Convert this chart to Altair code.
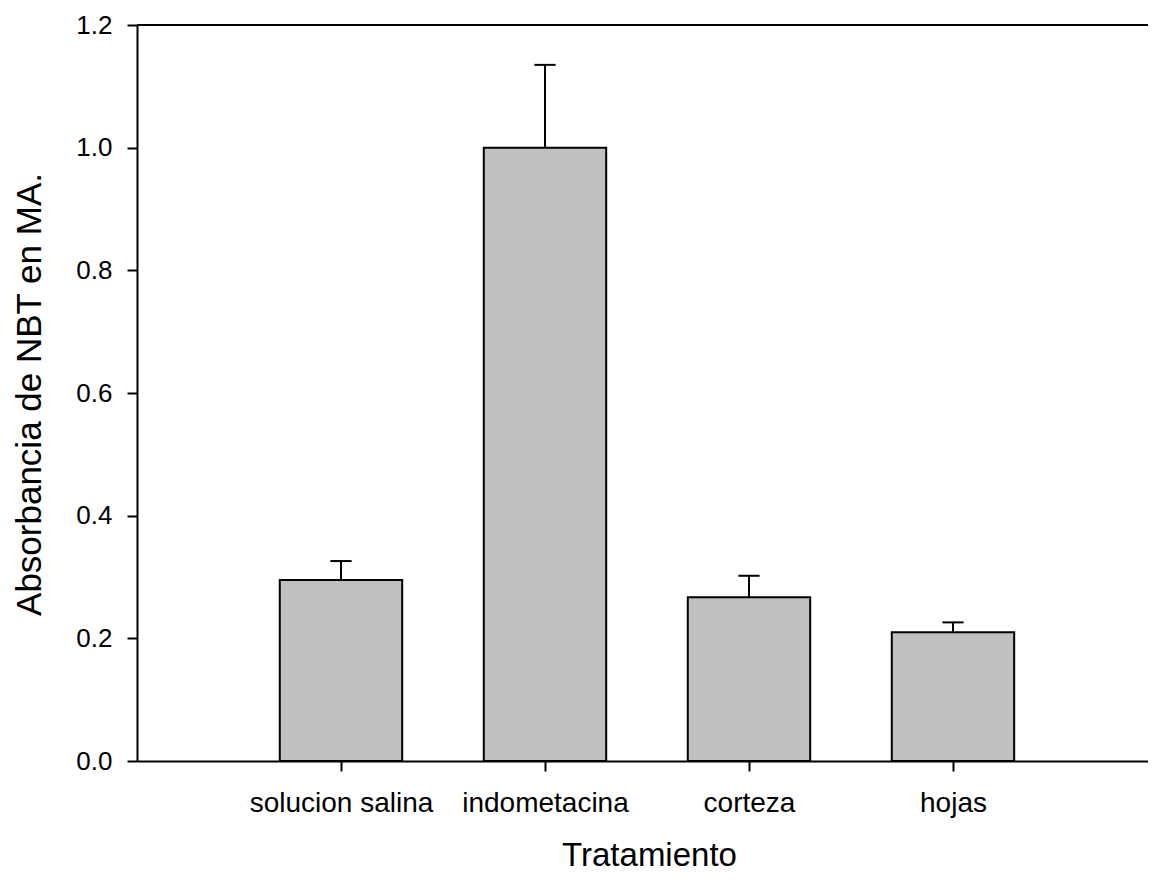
import altair as alt
import pandas as pd

categories = ["solucion salina", "indometacina", "corteza", "hojas"]
positions = [1, 2, 3, 4]
means = [0.295, 1.0, 0.267, 0.210]
errors = [0.031, 0.135, 0.035, 0.016]
y_ticks = [0.0, 0.2, 0.4, 0.6, 0.8, 1.0, 1.2]

df = pd.DataFrame({"cat": categories, "pos": positions, "mean": means, "err": errors})

label_expr = " : ".join(
    [f"datum.value == {p} ? '{c}'" for p, c in zip(positions, categories)]
) + " : ''"

FONT = "Liberation Sans"
X_MAX = 4.956

x_scale = alt.Scale(domain=[0, X_MAX], nice=False, zero=False)
y_scale = alt.Scale(domain=[0, 1.2], nice=False)

x_axis = alt.Axis(
    values=positions, labelExpr=label_expr, title="Tratamiento",
    grid=False, domainColor="black", domainWidth=2, tickColor="black",
    tickWidth=2, tickSize=10, labelFont=FONT, labelFontSize=28,
    labelColor="black", labelPadding=18, labelLimit=400, titleFont=FONT,
    titleFontSize=33, titleFontWeight="normal", titleColor="black",
    titleX=512, titleY=104, titleBaseline="alphabetic", titleAlign="center",
)
y_axis = alt.Axis(
    values=y_ticks, format=".1f", title="Absorbancia de NBT en MA.",
    grid=False, domainColor="black", domainWidth=2, tickColor="black",
    tickWidth=2, tickSize=10, labelFont=FONT, labelFontSize=26,
    labelColor="black", labelPadding=15, titleFont=FONT, titleFontSize=35,
    titleFontWeight="normal", titleColor="black", titleX=-97, titleY=369,
    titleBaseline="alphabetic", titleAlign="center", titleAngle=270,
)

base = alt.Chart(df).transform_calculate(
    left="datum.pos - 0.3",
    right="datum.pos + 0.3",
    upper="datum.mean + datum.err",
    capl="datum.pos - 0.052",
    capr="datum.pos + 0.052",
)

bars = base.mark_rect(color="#c0c0c0", stroke="black", strokeWidth=2).encode(
    x=alt.X("left:Q", scale=x_scale, axis=x_axis),
    x2="right:Q",
    y=alt.Y("mean:Q", scale=y_scale, axis=y_axis),
    y2=alt.datum(0),
)

err = base.mark_rule(color="black", strokeWidth=2).encode(
    x=alt.X("pos:Q", scale=x_scale, axis=x_axis),
    y=alt.Y("mean:Q", scale=y_scale, axis=y_axis),
    y2="upper:Q",
)

caps = base.mark_rule(color="black", strokeWidth=2).encode(
    x=alt.X("capl:Q", scale=x_scale, axis=x_axis),
    x2="capr:Q",
    y=alt.Y("upper:Q", scale=y_scale, axis=y_axis),
)

top = alt.Chart(pd.DataFrame({"a": [0]})).mark_rule(color="black", strokeWidth=2).encode(
    x=alt.datum(0, scale=x_scale),
    x2=alt.datum(X_MAX),
    y=alt.datum(1.2),
)

chart = alt.layer(bars, err, caps, top).properties(
    width=1011,
    height=736,
    autosize=alt.AutoSizeParams(type="none"),
    padding={"left": 129, "top": 17, "right": 0, "bottom": 113},
).configure_view(stroke=None).configure(background="white")

chart.save("out.html", embed_options={"renderer": "svg", "actions": False})
